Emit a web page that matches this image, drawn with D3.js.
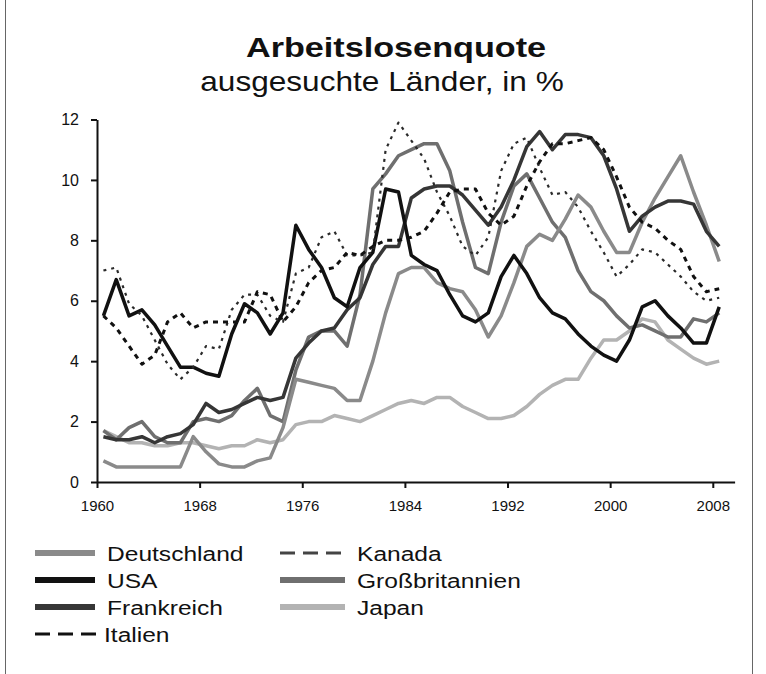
<!DOCTYPE html>
<html><head><meta charset="utf-8">
<script src="https://cdn.jsdelivr.net/npm/d3@7"></script>
<style>
body{margin:0;background:#fff}
svg{display:block;font-family:"Liberation Sans",Arial,Helvetica,sans-serif}
</style>
</head><body>
<svg id="chart" width="766" height="674"></svg>
<script>
// ---------- data (1960–2008) ----------
const years = d3.range(1960, 2009);
const deutschland = [0.7,0.5,0.5,0.5,0.5,0.5,0.5,1.5,1.0,0.6, 0.5,0.5,0.7,0.8,1.8,3.4,3.3,3.2,3.1,2.7, 2.7,4.0,5.6,6.9,7.1,7.1,6.6,6.4,6.3,5.7, 4.8,5.5,6.6,7.8,8.2,8.0,8.7,9.5,9.1,8.3, 7.6,7.6,8.6,9.4,10.1,10.8,9.6,8.5,7.3];
const usa = [5.5,6.7,5.5,5.7,5.2,4.5,3.8,3.8,3.6,3.5, 4.9,5.9,5.6,4.9,5.6,8.5,7.7,7.1,6.1,5.8, 7.1,7.6,9.7,9.6,7.5,7.2,7.0,6.2,5.5,5.3, 5.6,6.8,7.5,6.9,6.1,5.6,5.4,4.9,4.5,4.2, 4.0,4.7,5.8,6.0,5.5,5.1,4.6,4.6,5.8];
const frankreich = [1.5,1.4,1.4,1.5,1.3,1.5,1.6,1.9,2.6,2.3, 2.4,2.6,2.8,2.7,2.8,4.1,4.6,5.0,5.1,5.7, 6.1,7.2,7.8,7.8,9.4,9.7,9.8,9.8,9.5,9.0, 8.5,9.1,10.0,11.1,11.6,11.0,11.5,11.5,11.4,10.8, 9.7,8.3,8.8,9.1,9.3,9.3,9.2,8.3,7.8];
const italien = [5.5,5.1,4.5,3.9,4.2,5.3,5.6,5.1,5.3,5.3, 5.3,5.3,6.3,6.2,5.3,5.8,6.6,7.0,7.1,7.6, 7.5,7.8,8.0,8.0,8.1,8.3,8.9,9.6,9.7,9.7, 8.9,8.5,8.8,9.8,10.6,11.2,11.2,11.3,11.4,11.0, 10.1,9.1,8.6,8.4,8.0,7.7,6.8,6.3,6.4];
const kanada = [7.0,7.1,5.9,5.5,4.7,3.9,3.4,3.8,4.5,4.4, 5.7,6.2,6.2,5.5,5.3,6.9,7.1,8.1,8.3,7.5, 7.5,7.6,11.0,11.9,11.3,10.7,9.6,8.8,7.8,7.5, 8.1,10.3,11.2,11.4,10.4,9.5,9.6,9.1,8.3,7.6, 6.8,7.2,7.7,7.6,7.2,6.8,6.3,6.0,6.1];
const grossbritannien = [1.7,1.4,1.8,2.0,1.5,1.3,1.3,2.0,2.1,2.0, 2.2,2.7,3.1,2.2,2.0,3.7,4.8,5.0,5.0,4.5, 6.2,9.7,10.2,10.8,11.0,11.2,11.2,10.3,8.6,7.1, 6.9,8.6,9.8,10.2,9.4,8.6,8.1,7.0,6.3,6.0, 5.5,5.1,5.2,5.0,4.8,4.8,5.4,5.3,5.6];
const japan = [1.7,1.5,1.3,1.3,1.2,1.2,1.3,1.3,1.2,1.1, 1.2,1.2,1.4,1.3,1.4,1.9,2.0,2.0,2.2,2.1, 2.0,2.2,2.4,2.6,2.7,2.6,2.8,2.8,2.5,2.3, 2.1,2.1,2.2,2.5,2.9,3.2,3.4,3.4,4.1,4.7, 4.7,5.0,5.4,5.3,4.7,4.4,4.1,3.9,4.0];

const xTickValues = [1960,1968,1976,1984,1992,2000,2008];
const yTickValues = [0,2,4,6,8,10,12];
const titleText = "Arbeitslosenquote";
const subtitleText = "ausgesuchte Länder, in %";

// ---------- series table built from arrays + styles ----------
const series = [
  {name:"Japan", values:japan, color:"#b3b3b3", width:3.5, dash:null},
  {name:"Großbritannien", values:grossbritannien, color:"#6f6f6f", width:3.5, dash:null},
  {name:"Deutschland", values:deutschland, color:"#8a8a8a", width:3.5, dash:null},
  {name:"Frankreich", values:frankreich, color:"#363636", width:3.5, dash:null},
  {name:"USA", values:usa, color:"#111111", width:3.5, dash:null},
  {name:"Kanada", values:kanada, color:"#2a2a2a", width:2.2, dash:"3,5"},
  {name:"Italien", values:italien, color:"#111111", width:3, dash:"5,5"}
];
const byName = Object.fromEntries(series.map(s => [s.name, s]));

const svg = d3.select("#chart");
const SX = 1.17; // horizontal text stretch seen in reference

function stretchedText(x, y, txt, size, weight, anchor, sx) {
  return svg.append("text")
    .attr("transform", `translate(${x},${y}) scale(${sx},1)`)
    .attr("text-anchor", anchor)
    .attr("font-size", size)
    .attr("font-weight", weight)
    .attr("fill", "#111")
    .text(txt);
}

// frame lines
svg.append("line").attr("x1",5.5).attr("x2",5.5).attr("y1",0).attr("y2",674).attr("stroke","#666").attr("stroke-width",1);
svg.append("line").attr("x1",752.5).attr("x2",752.5).attr("y1",0).attr("y2",674).attr("stroke","#666").attr("stroke-width",1);

// titles
stretchedText(396, 57, titleText, 28.5, "bold", "middle", 1.2);
stretchedText(382, 91, subtitleText, 27, "normal", "middle", SX);

// scales
const x = d3.scaleLinear().domain([1960, 2009.7]).range([97, 734.6]);
const y = d3.scaleLinear().domain([0, 12]).range([482, 119.5]);

// lines
const line = d3.line()
  .x((d, i) => x(years[i] + 0.5))
  .y(d => y(d));

const g = svg.append("g");
series.forEach(s => {
  g.append("path")
    .datum(s.values)
    .attr("d", line)
    .attr("fill", "none")
    .attr("stroke", s.color)
    .attr("stroke-width", s.width)
    .attr("stroke-linejoin", "round")
    .attr("stroke-dasharray", s.dash);
});

// axes
const yAxis = d3.axisLeft(y).tickValues(yTickValues).tickSize(6).tickSizeOuter(0).tickPadding(12).tickFormat(d3.format("d"));
const xAxis = d3.axisBottom(x).tickValues(xTickValues).tickSize(6).tickSizeOuter(0).tickPadding(12).tickFormat(d3.format("d"));

const ya = svg.append("g").attr("transform", "translate(97,0)").call(yAxis);
const xa = svg.append("g").attr("transform", "translate(0,482)").call(xAxis);
[ya, xa].forEach(a => {
  a.select(".domain").attr("stroke", "#111").attr("stroke-width", 2);
  a.selectAll(".tick line").attr("stroke", "#111").attr("stroke-width", 2);
  a.selectAll(".tick text").attr("fill", "#111").attr("font-family", '"Liberation Sans",Arial,sans-serif');
});
ya.attr("font-size", 16);
ya.selectAll(".tick text").attr("font-size", 16);
xa.attr("font-size", 15);
xa.selectAll(".tick text").attr("font-size", 15);

// legend
const legendCols = [
  {x0:35, x1:95, tx:107, names:["Deutschland","USA","Frankreich","Italien"]},
  {x0:280, x1:345, tx:357, names:["Kanada","Großbritannien","Japan"]}
];
const rowY = [553, 580, 607, 634];
legendCols.forEach(col => {
  col.names.forEach((n, i) => {
    const s = byName[n];
    const yy = rowY[i];
    const isDash = !!s.dash;
    const x1 = n === "Italien" ? 100 : col.x1;
    const tx = n === "Italien" ? 104 : col.tx;
    svg.append("line")
      .attr("x1", col.x0).attr("x2", x1).attr("y1", yy).attr("y2", yy)
      .attr("stroke", isDash ? (n === "Kanada" ? "#444" : "#111") : s.color)
      .attr("stroke-width", isDash ? 3 : 6)
      .attr("stroke-dasharray", isDash ? "15,8" : null);
    stretchedText(tx, yy + 8, n, 21, "normal", "start", SX);
  });
});
</script>
</body></html>
